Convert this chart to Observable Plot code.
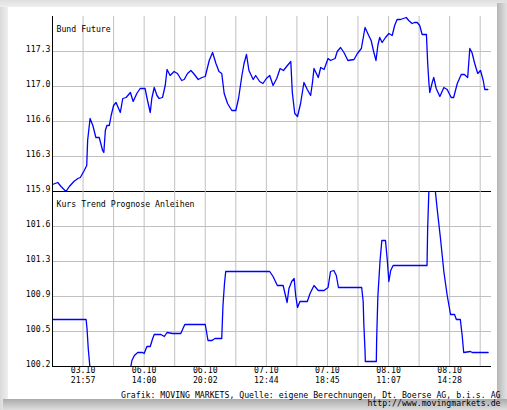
<!DOCTYPE html>
<html><head><meta charset="utf-8">
<script src="https://cdn.jsdelivr.net/npm/d3@7"></script>
<script src="https://cdn.jsdelivr.net/npm/@observablehq/plot@0.6"></script>
<style>
html,body{margin:0;padding:0;background:#e8e8e8;}
#wrap{position:relative;width:507px;height:410px;overflow:hidden;background:linear-gradient(to right,#dadada,#efefef 8px);}
#topband{position:absolute;left:0;top:0;width:507px;height:7px;background:linear-gradient(to bottom,#dedede,#efefef);}
#panel{position:absolute;left:8px;top:7px;width:489px;height:392px;background:#fff;}
#rshadow{position:absolute;left:497px;top:3px;width:10px;height:407px;background:linear-gradient(to right,#b6b6b6,#e2e2e2);}
#bshadow{position:absolute;left:3px;top:399px;width:504px;height:11px;background:linear-gradient(to bottom,#aaaaaa,#dedede);}
.chart{position:absolute;left:0;top:0;}
</style></head>
<body>
<div id="wrap"><div id="topband"></div><div id="panel"></div><div id="rshadow"></div><div id="bshadow"></div>
<div id="c1" class="chart"></div><div id="c2" class="chart"></div></div>
<script>
// Bund Future (time index in grid units, price)
const topT = [0,0.17,0.28,0.44,0.55,0.70,0.83,0.91,1.04,1.12,1.15,1.23,1.32,1.42,1.53,1.64,1.68,1.73,1.78,1.86,1.92,2.00,2.08,2.22,2.30,2.41,2.55,2.64,2.76,2.87,3.03,3.11,3.20,3.25,3.33,3.42,3.49,3.60,3.69,3.75,3.85,3.98,4.09,4.23,4.31,4.42,4.53,4.62,4.77,4.89,5.00,5.13,5.24,5.35,5.45,5.54,5.62,5.73,5.87,6.00,6.09,6.20,6.27,6.35,6.43,6.57,6.65,6.78,6.89,7.00,7.11,7.22,7.34,7.45,7.56,7.69,7.80,7.85,7.93,8.02,8.12,8.23,8.34,8.45,8.51,8.56,8.70,8.78,8.89,9.02,9.10,9.25,9.32,9.43,9.54,9.67,9.87,9.98,10.11,10.23,10.32,10.43,10.52,10.59,10.65,10.71,10.79,10.90,11.01,11.12,11.20,11.28,11.39,11.58,11.66,11.77,11.85,11.94,12.02,12.10,12.24,12.28,12.32,12.35,12.43,12.48,12.56,12.68,12.81,12.92,13.05,13.13,13.25,13.38,13.48,13.59,13.66,13.73,13.82,13.92,14.01,14.10,14.15,14.25];
const topV = [115.97,115.99,115.95,115.90,115.95,116.00,116.03,116.04,116.11,116.16,116.41,116.63,116.56,116.44,116.44,116.31,116.29,116.51,116.56,116.56,116.66,116.76,116.79,116.69,116.83,116.84,116.89,116.80,116.88,116.93,116.93,116.81,116.69,116.83,116.94,116.86,116.83,116.84,116.96,117.12,117.06,117.10,117.08,117.01,117.02,117.08,117.11,117.08,117.02,117.04,117.05,117.21,117.29,117.18,117.10,117.08,116.88,116.78,116.71,116.71,116.83,117.06,117.18,117.27,117.11,117.02,117.06,117.00,116.98,117.03,117.06,116.96,117.03,117.13,117.11,117.16,117.20,116.89,116.68,116.65,116.78,116.99,116.92,116.86,116.99,117.13,117.04,117.14,117.12,117.23,117.21,117.23,117.30,117.34,117.29,117.21,117.22,117.28,117.33,117.54,117.48,117.41,117.29,117.21,117.36,117.44,117.39,117.44,117.48,117.46,117.56,117.62,117.62,117.64,117.61,117.58,117.59,117.59,117.56,117.47,117.47,117.19,116.99,116.89,116.99,117.04,116.93,116.85,116.94,116.92,116.84,116.84,116.98,117.07,117.07,117.04,117.33,117.29,117.18,117.08,117.11,117.01,116.92,116.92];

// Kurs Trend Prognose Anleihen
const botT = [0,1.10,1.13,1.17,1.22,1.26,2.52,2.57,2.60,2.68,2.79,2.95,3.00,3.09,3.20,3.28,3.33,3.55,3.66,3.75,3.93,4.20,4.33,5.00,5.04,5.09,5.22,5.32,5.54,5.58,5.63,5.67,7.11,7.22,7.36,7.55,7.61,7.68,7.74,7.83,7.91,7.96,8.02,8.10,8.34,8.43,8.56,8.70,8.89,9.02,9.10,9.21,9.29,9.36,10.12,10.17,10.19,10.23,10.24,10.60,10.61,10.65,10.72,10.78,10.90,10.96,11.01,11.07,11.15,12.26,12.28,12.33,12.50,12.59,12.70,12.81,12.92,13.03,13.16,13.22,13.35,13.41,13.46,13.68,13.74,14.26];
const botV = [100.67,100.67,100.58,100.38,100.21,100.05,100.05,100.21,100.26,100.31,100.34,100.34,100.33,100.40,100.40,100.48,100.52,100.52,100.50,100.54,100.53,100.53,100.62,100.62,100.55,100.46,100.46,100.48,100.48,100.81,101.03,101.15,101.15,101.10,101.01,101.01,100.93,100.84,100.98,101.05,101.08,100.91,100.79,100.85,100.85,100.93,101.01,100.96,100.96,100.99,101.15,101.16,101.11,100.99,100.99,100.85,100.63,100.36,100.25,100.25,100.46,100.90,101.25,101.46,101.46,101.26,101.05,101.16,101.21,101.21,101.58,102.05,102.05,101.78,101.48,101.15,100.91,100.72,100.72,100.67,100.67,100.51,100.34,100.35,100.34,100.34];

const topTickValues = [115.9,116.25,116.6,116.95,117.3];
const topTickLabels = ["115.9","116.3","116.6","117.0","117.3"];
const botTickValues = [100.2,100.55,100.9,101.25,101.6];
const botTickLabels = ["100.2","100.5","100.9","101.3","101.6"];
const gridT = [1,2,3,4,5,6,7,8,9,10,11,12,13,14];
const xTickPos = [1,3,5,7,9,11,13];
const xTickDates = ["03.10","06.10","06.10","07.10","07.10","08.10","08.10"];
const xTickTimes = ["21:57","14:00","20:02","12:44","18:45","11:07","14:28"];
const topTitle = "Bund Future";
const botTitle = "Kurs Trend Prognose Anleihen";
const footer1 = "Grafik: MOVING MARKETS, Quelle: eigene Berechnungen, Dt. Boerse AG, b.i.s. AG";
const footer2 = "http://www.movingmarkets.de";

const style = {fontFamily:"'DejaVu Sans Mono', monospace", fontSize:"8.2px", background:"transparent", color:"#000", overflow:"visible"};
const gridColor = "#c0c0c0";
const topData = topT.map((t,i)=>({t, v: topV[i]}));
const botData = botT.map((t,i)=>({t, v: botV[i]}));

const topChart = Plot.plot({
  width:507, height:200, marginTop:16, marginBottom:9, marginLeft:52, marginRight:16,
  style,
  x:{domain:[0,14.37], axis:null},
  y:{domain:[115.9,117.65], axis:null},
  marks:[
    Plot.gridX({ticks:gridT, stroke:gridColor, strokeOpacity:1}),
    Plot.gridY({ticks:topTickValues, stroke:gridColor, strokeOpacity:1}),
    Plot.axisY({ticks:topTickValues, tickFormat:d=>topTickLabels[topTickValues.indexOf(d)], tickSize:0, tickPadding:2, lineAnchor:"bottom", fontSize:8.2, label:null}),
    Plot.line(topData, {x:"t", y:"v", stroke:"#0000ff", strokeWidth:1.3, clip:true}),
    Plot.ruleX([0], {stroke:"#000"}),
    Plot.ruleY([115.9], {stroke:"#000"}),
    Plot.text([topTitle], {text:d=>d, frameAnchor:"top-left", dx:4, dy:15, lineAnchor:"bottom", textAnchor:"start", fontSize:8.2})
  ]
});
document.getElementById("c1").append(topChart);

const botChart = Plot.plot({
  width:507, height:410, marginTop:191, marginBottom:44, marginLeft:52, marginRight:16,
  style,
  x:{domain:[0,14.37], label:null},
  y:{domain:[100.2,101.95], label:null},
  marks:[
    Plot.gridX({ticks:gridT, stroke:gridColor, strokeOpacity:1}),
    Plot.gridY({ticks:botTickValues, stroke:gridColor, strokeOpacity:1}),
    Plot.axisY({ticks:botTickValues, tickFormat:d=>botTickLabels[botTickValues.indexOf(d)], tickSize:0, tickPadding:2, lineAnchor:"bottom", fontSize:8.2, label:null}),
    Plot.axisX({ticks:xTickPos, tickFormat:d=>{const i=xTickPos.indexOf(d); return xTickDates[i]+"\n"+xTickTimes[i];}, tickSize:0, tickPadding:0, lineHeight:1.17, fontSize:8.2, label:null}),
    Plot.line(botData, {x:"t", y:"v", stroke:"#0000ff", strokeWidth:1.3, clip:true}),
    Plot.ruleX([0], {stroke:"#000"}),
    Plot.ruleY([100.2], {stroke:"#000"}),
    Plot.text([botTitle], {text:d=>d, frameAnchor:"top-left", dx:4, dy:15, lineAnchor:"bottom", textAnchor:"start", fontSize:8.2}),
    Plot.text([footer1], {text:d=>d, frameAnchor:"bottom-right", dx:9, dy:31, lineAnchor:"bottom", textAnchor:"end", fontSize:8.2}),
    Plot.text([footer2], {text:d=>d, frameAnchor:"bottom-right", dx:9, dy:39.5, lineAnchor:"bottom", textAnchor:"end", fontSize:8.2})
  ]
});
document.getElementById("c2").append(botChart);
</script>
</body></html>
